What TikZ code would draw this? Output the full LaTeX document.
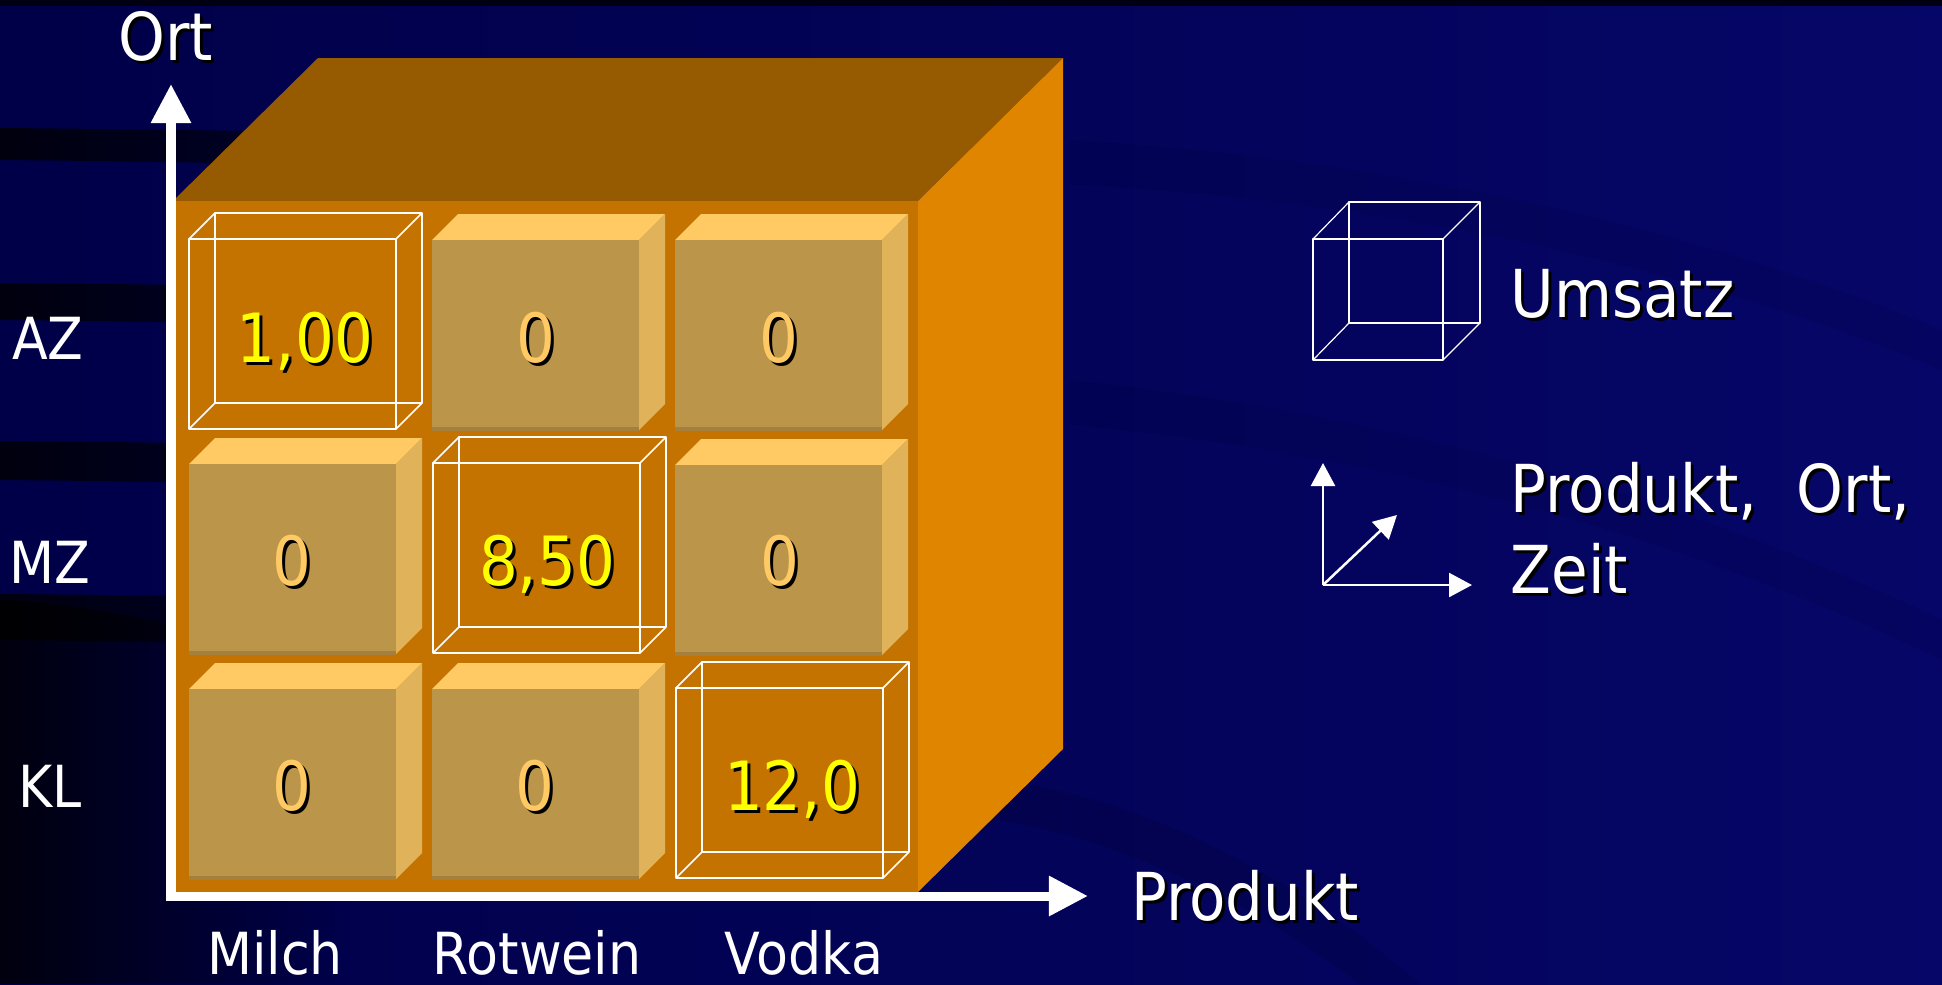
\documentclass[tikz,border=0pt]{standalone}
\usepackage{fontspec}
\setmainfont{DejaVu Sans}[FakeStretch=0.9]
\usetikzlibrary{arrows.meta,fadings}
\definecolor{bgA}{RGB}{0,0,72}
\definecolor{bgB}{RGB}{6,6,104}
\definecolor{cubeTop}{RGB}{150,90,0}
\definecolor{cubeFront}{RGB}{196,115,0}
\definecolor{cubeSide}{RGB}{224,133,0}
\definecolor{boxFront}{RGB}{187,149,73}
\definecolor{boxEdge}{RGB}{165,128,60}
\definecolor{boxTop}{RGB}{255,201,100}
\definecolor{boxSide}{RGB}{224,179,90}
\definecolor{valYellow}{RGB}{255,255,0}
\definecolor{valZero}{RGB}{255,201,100}
\tikzfading[name=fadeR, left color=transparent!0, right color=transparent!100]
\newcommand\shtxt[2]{\rlap{\kern0.3mm\raisebox{-0.3mm}{\color{black}#2}}{\color{#1}#2}}
\newcommand\fAxis{\fontsize{18.8pt}{23pt}\selectfont}
\newcommand\fVal{\fontsize{19.3pt}{23pt}\selectfont}
\newcommand\fLab{\fontsize{16.5pt}{20pt}\selectfont}
\newcommand\solidbox[2]{%
  \fill[boxTop] (#1,#2) -- ++(26,-26) -- ++(207,0) -- ++(-26,26) -- cycle;
  \fill[boxSide] (#1+207,#2) -- ++(26,-26) -- ++(0,190) -- ++(-26,26) -- cycle;
  \fill[boxFront] (#1,#2) rectangle ++(207,190);
  \draw[boxEdge, line width=0.4mm] (#1,#2+189) -- ++(207,0);}
\newcommand\wirebox[2]{%
  \draw[wire] (#1,#2) rectangle ++(207,190);
  \draw[wire] (#1+26,#2-26) rectangle ++(207,190);
  \draw[wire] (#1,#2) -- ++(26,-26) (#1+207,#2) -- ++(26,-26)
              (#1,#2+190) -- ++(26,-26) (#1+207,#2+190) -- ++(26,-26);}
\begin{document}
\begin{tikzpicture}[x=0.01cm,y=-0.01cm,
  wire/.style={draw=white, line width=0.15mm, line join=round},
  axisline/.style={draw=white, line width=0.9mm, line join=miter,
    {Triangle[length=3.9mm,width=3.8mm]}-{Triangle[length=3.9mm,width=3.8mm]}},
  legaxis/.style={draw=white, line width=0.25mm,
    -{Triangle[length=2.3mm,width=2.4mm]}},
  txt/.style={inner sep=0pt, anchor=base},
  ttl/.style={txt, font=\fAxis},
  val/.style={txt, font=\fVal},
  lab/.style={txt, font=\fLab, text=white}]
\useasboundingbox (0,0) rectangle (1942,984);
% background
\shade[left color=bgA, right color=bgB] (0,0) rectangle (1942,984);
\fill[black!75!bgA] (0,0) rectangle (1942,6);
\fill[black, opacity=0.8, path fading=fadeR] (0,600) .. controls (150,610) and (250,640) .. (350,690) -- (350,984) -- (0,984) -- cycle;
\foreach \ya/\yb in {128/160, 283/320, 441/480, 594/640}{
  \fill[black, opacity=0.8, path fading=fadeR] (0,\ya) .. controls (250,\ya+2) and (450,\ya+6) .. (700,\ya+16)
     -- (700,\yb+20) .. controls (450,\yb+8) and (250,\yb+2) .. (0,\yb) -- cycle;}
\fill[black, opacity=0.06] (1070,140) .. controls (1400,160) and (1700,230) .. (1942,330) -- (1942,370) .. controls (1700,270) and (1400,200) .. (1070,185) -- cycle;
\fill[black, opacity=0.06] (1070,380) .. controls (1350,410) and (1650,480) .. (1942,620) -- (1942,660) .. controls (1650,520) and (1350,450) .. (1070,425) -- cycle;
\fill[black, opacity=0.1] (1000,780) .. controls (1150,800) and (1300,880) .. (1420,984) -- (1360,984) .. controls (1250,900) and (1120,840) .. (1000,820) -- cycle;
% big cube
\fill[cubeTop] (173,201) -- (318,58) -- (1063,58) -- (918,201) -- cycle;
\fill[cubeSide] (918,201) -- (1063,58) -- (1063,749) -- (918,892) -- cycle;
\fill[cubeFront] (173,201) rectangle (918,892);
% cells
\wirebox{189}{239}
\solidbox{432}{240}
\solidbox{675}{240}
\solidbox{189}{464}
\wirebox{433}{463}
\solidbox{675}{465}
\solidbox{189}{689}
\solidbox{432}{689}
\wirebox{676}{688}
% values
\node[val] (v11) at (305,362) {\shtxt{valYellow}{1,00}};
\node[val] (v12) at (536,362) {\shtxt{valZero}{0}};
\node[val] (v13) at (779,362) {\shtxt{valZero}{0}};
\node[val] (v21) at (292,585) {\shtxt{valZero}{0}};
\node[val] (v22) at (547,585) {\shtxt{valYellow}{8,50}};
\node[val] (v23) at (780,585) {\shtxt{valZero}{0}};
\node[val] (v31) at (292,810) {\shtxt{valZero}{0}};
\node[val] (v32) at (535,810) {\shtxt{valZero}{0}};
\node[val] (v33) at (792,810) {\shtxt{valYellow}{12,0}};
% axes
\coordinate (ortTip) at (171,84);
\coordinate (orig) at (171,896);
\coordinate (prodTip) at (1088,896);
\draw[axisline] (ortTip) -- (orig) -- (prodTip);
\node[ttl] (ort) at (166,60) {\shtxt{white}{Ort}};
\node[ttl] (produkt) at (1245,920) {\shtxt{white}{Produkt}};
% row and column labels
\node[lab] (az) at (48,359) {AZ};
\node[lab] (mz) at (50,583) {MZ};
\node[lab] (kl) at (50,807) {KL};
\node[lab] (milch) at (275,974) {Milch};
\node[lab] (rotwein) at (537,974) {Rotwein};
\node[lab] (vodka) at (804,974) {Vodka};
% legend
\draw[wire, line width=0.12mm] (1313,239) rectangle (1443,360);
\draw[wire, line width=0.12mm] (1349,202) rectangle (1480,323);
\draw[wire, line width=0.12mm] (1313,239) -- (1349,202) (1443,239) -- (1480,202)
   (1313,360) -- (1349,323) (1443,360) -- (1480,323);
\node[ttl, anchor=base west] (umsatz) at (1510,317) {\shtxt{white}{Umsatz}};
\coordinate (lo) at (1323,585);
\coordinate (lv) at (1323,463);
\coordinate (lh) at (1472,585);
\coordinate (ld) at (1397,515);
\draw[legaxis] (lo) -- (lv);
\draw[legaxis] (lo) -- (lh);
\draw[legaxis] (lo) -- (ld);
\node[ttl, anchor=base west] (dims1) at (1510,512) {\shtxt{white}{Produkt,\hspace{0.6em}Ort,}};
\node[ttl, anchor=base west] (dims2) at (1510,593) {\shtxt{white}{Zeit}};
\end{tikzpicture}
\end{document}
